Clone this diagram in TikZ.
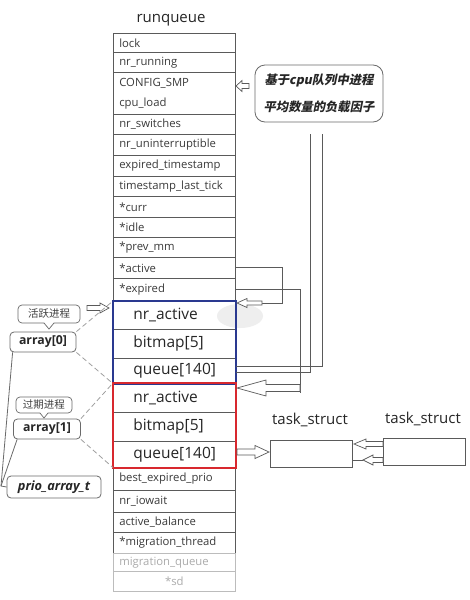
\documentclass[tikz,border=0pt]{standalone}
\usepackage{fontspec}
\setmainfont{Open Sans}
\newfontfamily\cjk{Noto Sans CJK SC}
\newfontfamily\cjksl{Noto Sans CJK SC}[FakeSlant=0.2]
\usetikzlibrary{calc}
\definecolor{rqline}{HTML}{5A5A5A}
\definecolor{rqtext}{HTML}{3A3A3A}
\definecolor{faint}{HTML}{ABABAB}
\definecolor{bluefrc}{HTML}{2A3990}
\definecolor{redfrc}{HTML}{D8282E}
\definecolor{dashgray}{HTML}{A0A0A0}
\definecolor{lblgray}{HTML}{6A6A6A}
\newcommand{\harr}[6]{\draw[hollowarr] (#1,{#4-#5}) -- (#2,{#4-#5}) -- (#2,{#4-#6}) -- (#3,#4) -- (#2,{#4+#6}) -- (#2,{#4+#5}) -- (#1,{#4+#5}) -- cycle;}
\tikzset{
  rqrow/.style={draw=rqline, line width=0.6pt, anchor=north west, text width=110pt, inner xsep=6pt, inner ysep=0pt, align=left, font=\fontsize{11.3}{13}\selectfont, text=rqtext, minimum height=#1},
  rqbig/.style={rqrow=#1, text width=82pt, inner xsep=20pt, font=\fontsize{15.5}{18}\selectfont, text=black!85},
  bluefr/.style={draw=bluefrc, line width=1.8pt},
  redfr/.style={draw=redfrc, line width=1.8pt},
  conn/.style={draw=rqline, line width=0.7pt},
  hollowarr/.style={draw=rqline, line width=0.7pt, fill=white, line join=miter},
  lbl/.style={draw=lblgray, line width=0.8pt, rounded corners=4pt, inner sep=1pt, text=black!85},
  bubble/.style={draw=lblgray, line width=0.7pt, rounded corners=4pt, inner sep=1pt, font=\cjk\fontsize{10.5}{12}\selectfont, text=black!75},
  dashline/.style={draw=dashgray, line width=0.8pt, dash pattern=on 5pt off 3pt},
  tbox/.style={draw=rqline, line width=0.7pt, minimum width=82pt, minimum height=27pt, inner sep=0pt},
  tlabel/.style={font=\fontsize{15}{18}\selectfont, text=black!85},
}
\begin{document}
\begin{tikzpicture}[x=1pt,y=-1pt]
\useasboundingbox (0,0) rectangle (470,600);
\fill[white] (0,0) rectangle (470,600);

% title
\node[font=\fontsize{15}{18}\selectfont, text=black!85] (title) at (171,20) {runqueue};

% runqueue rows
\node[rqrow=19pt] (lock) at (113,33) {lock};
\node[rqrow=20pt] (nrrun) at (113,52) {nr\_running};
\node[rqrow=42pt, font=\fontsize{11.3}{20}\selectfont] (smp) at (113,72) {CONFIG\_SMP\\cpu\_load};
\node[rqrow=20pt] (nrsw) at (113,114) {nr\_switches};
\node[rqrow=21pt] (nrun) at (113,134) {nr\_uninterruptible};
\node[rqrow=21pt] (expts) at (113,155) {expired\_timestamp};
\node[rqrow=20pt] (tslt) at (113,176) {timestamp\_last\_tick};
\node[rqrow=21pt] (curr) at (113,196) {*curr};
\node[rqrow=20pt] (idle) at (113,217) {*idle};
\node[rqrow=20pt] (prevmm) at (113,237) {*prev\_mm};
\node[rqrow=21pt] (active) at (113,257) {*active};
\node[rqrow=23pt] (expired) at (113,278) {*expired};

% grey smudge
\fill[gray!13] (240,316) ellipse [x radius=23pt, y radius=12pt];

% array[0] (blue)
\node[rqbig=28pt, fill=none] (bna) at (113,301) {nr\_active};
\node[rqbig=29pt] (bbm) at (113,329) {bitmap[5]};
\node[rqbig=25pt] (bq) at (113,358) {queue[140]};
% array[1] (red)
\node[rqbig=29pt] (rna) at (113,383) {nr\_active};
\node[rqbig=29pt] (rbm) at (113,412) {bitmap[5]};
\node[rqbig=26pt] (rqueue) at (113,441) {queue[140]};

\node[rqrow=23pt] (best) at (113,467) {best\_expired\_prio};
\node[rqrow=22pt] (iow) at (113,490) {nr\_iowait};
\node[rqrow=20pt] (bal) at (113,512) {active\_balance};
\node[rqrow=21pt] (migt) at (113,532) {*migration\_thread};
\node[rqrow=18pt, draw=faint!80, text=faint] (migq) at (113,553) {migration\_queue};
\node[rqrow=20pt, draw=faint!80, text=faint, align=center] (sd) at (113,571) {*sd};

\draw[bluefr] (bna.north west) rectangle (bq.south east);
\draw[redfr] (rna.north west) rectangle (rqueue.south east);

% callout on top right
\node[draw=lblgray, line width=0.8pt, rounded corners=10pt, minimum width=128pt, minimum height=57pt, inner sep=2pt, align=center, font=\cjksl\bfseries\fontsize{12.3}{27}\selectfont, text=black!85] (cb) at (319,93.5) {基于cpu队列中进程\\平均数量的负载因子};
\harr{249}{242}{236}{86}{2.5}{5.5}

% connectors on the right
\coordinate (aturn) at (282,303);
\coordinate (atail) at (262,303);
\draw[conn] (active.east) -| (aturn) -- (atail);
\harr{262}{247}{237}{303}{2}{4.5}

\coordinate (eturn) at (300,393);
\draw[conn] (expired.east) -| (eturn);
\harr{300}{266}{237}{388}{3.5}{8}

\coordinate (v1top) at (310,134);
\coordinate (v2top) at (322,134);
\draw[conn] (v1top) |- (bq.east |- 0,372);
\draw[conn] (v2top) |- (bq.east |- 0,366);

% task_struct
\node[tlabel] (t1lab) at (310,420) {task\_struct};
\node[tlabel] (t2lab) at (423,419) {task\_struct};
\node[tbox] (t1) at (311,453.5) {};
\node[tbox] (t2) at (424,452) {};
\harr{237}{255}{269}{452}{3}{6.5}
\harr{383}{366}{354}{444}{2.5}{5}
\harr{383}{373}{363}{460}{2.5}{5}
\draw[conn] (363,460) -- (t1.east |- 0,460);

% left labels
\node[bubble, minimum width=62pt, minimum height=18pt] (huo) at (49,314) {活跃进程};
\fill[white] (44,322) -- (49,329) -- (54,322) -- cycle;
\draw[draw=lblgray, line width=0.7pt] (44,323) -- (49,329) -- (54,323);
\node[lbl, minimum width=66pt, minimum height=20pt, font=\bfseries\fontsize{12.3}{14}\selectfont] (arr0) at (43,342) {array[0]};
\node[bubble, minimum width=56pt, minimum height=16pt] (guo) at (44,405) {过期进程};
\fill[white] (40,412) -- (44,418) -- (48,412) -- cycle;
\draw[draw=lblgray, line width=0.7pt] (40,413) -- (44,418) -- (48,413);
\node[lbl, minimum width=67pt, minimum height=20pt, font=\bfseries\fontsize{12.3}{14}\selectfont] (arr1) at (47,429) {array[1]};
\node[lbl, minimum width=94pt, minimum height=22pt, font=\bfseries\itshape\fontsize{12.8}{15}\selectfont] (prio) at (54,487) {prio\_array\_t};

\harr{87}{100}{109}{308}{2.5}{5}

\coordinate (bj) at (1,486);
\draw[draw=lblgray, line width=0.8pt] ([xshift=3pt]arr0.south west) -- (bj) -- (prio.west);
\draw[draw=lblgray, line width=0.8pt] ([xshift=4pt]arr1.south west) -- (bj);

\draw[dashline] (arr0.north east) -- (bna.north west);
\draw[dashline] (arr0.south east) -- (bq.south west);
\draw[dashline] (arr1.north east) -- (rna.north west);
\draw[dashline] (arr1.south east) -- (rqueue.south west);
\end{tikzpicture}
\end{document}
